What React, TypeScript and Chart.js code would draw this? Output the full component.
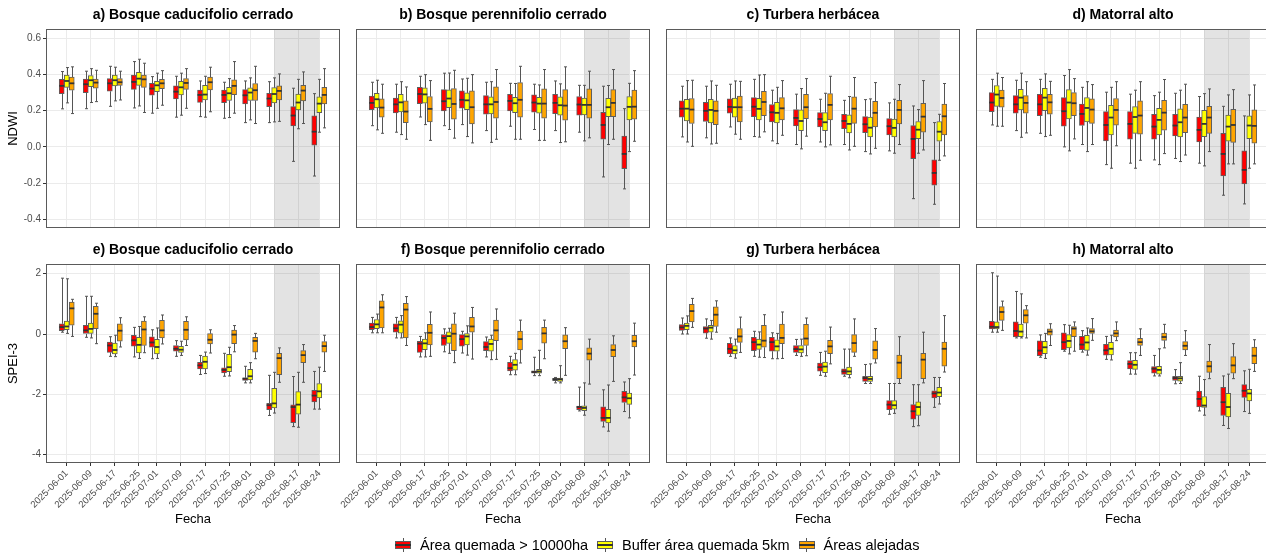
import React, { useEffect, useRef } from 'react';
import { Chart, registerables } from 'chart.js';

Chart.register(...registerables);

// ---------------- DATA ----------------
const DATES = [
  '2025-06-01', '2025-06-09', '2025-06-17', '2025-06-25', '2025-07-01', '2025-07-09',
  '2025-07-17', '2025-07-25', '2025-08-01', '2025-08-09', '2025-08-17', '2025-08-24',
];
const SHADE_FROM = '2025-08-09';
const SHADE_TO = '2025-08-24';

const SERIES = ['Área quemada > 10000ha', 'Buffer área quemada 5km', 'Áreas alejadas'];
const COLORS = ['#ff0000', '#ffff00', '#ffa500'];

const TITLES = [
  'a) Bosque caducifolio cerrado', 'b) Bosque perennifolio cerrado', 'c) Turbera herbácea', 'd) Matorral alto',
  'e) Bosque caducifolio cerrado', 'f) Bosque perennifolio cerrado', 'g) Turbera herbácea', 'h) Matorral alto',
];

const NDWI_TICKS = [-0.4, -0.2, 0, 0.2, 0.4, 0.6];
const SPEI_TICKS = [-4, -2, 0, 2];

// each entry: [min, q1, median, q3, max]
const A_RED = [
  [0.21, 0.294, 0.337, 0.373, 0.416], [0.211, 0.30, 0.346, 0.375, 0.418], [0.224, 0.307, 0.351, 0.377, 0.445],
  [0.215, 0.318, 0.359, 0.396, 0.471], [0.186, 0.285, 0.322, 0.351, 0.388], [0.164, 0.265, 0.305, 0.337, 0.39],
  [0.167, 0.246, 0.287, 0.313, 0.364], [0.158, 0.244, 0.287, 0.313, 0.357], [0.134, 0.237, 0.285, 0.316, 0.364],
  [0.134, 0.222, 0.267, 0.296, 0.36], [-0.08, 0.116, 0.173, 0.222, 0.324], [-0.161, 0.009, 0.084, 0.171, 0.294],
];
const A_YEL = [
  [0.243, 0.329, 0.364, 0.396, 0.438], [0.245, 0.333, 0.368, 0.394, 0.432], [0.254, 0.337, 0.368, 0.396, 0.44],
  [0.226, 0.34, 0.377, 0.412, 0.484], [0.213, 0.305, 0.34, 0.362, 0.407], [0.175, 0.287, 0.329, 0.362, 0.407],
  [0.164, 0.259, 0.289, 0.34, 0.39], [0.162, 0.256, 0.296, 0.329, 0.377], [0.149, 0.256, 0.30, 0.326, 0.381],
  [0.138, 0.243, 0.292, 0.327, 0.381], [0.10, 0.204, 0.245, 0.292, 0.373], [0.081, 0.189, 0.239, 0.276, 0.373],
];
const A_ORA = [
  [0.184, 0.313, 0.351, 0.385, 0.442], [0.25, 0.324, 0.355, 0.375, 0.423], [0.259, 0.34, 0.357, 0.377, 0.418],
  [0.19, 0.329, 0.373, 0.396, 0.462], [0.23, 0.322, 0.351, 0.373, 0.421], [0.213, 0.318, 0.353, 0.377, 0.432],
  [0.194, 0.315, 0.357, 0.385, 0.44], [0.186, 0.289, 0.337, 0.37, 0.471], [0.129, 0.256, 0.313, 0.35, 0.445],
  [0.141, 0.259, 0.309, 0.337, 0.403], [0.129, 0.254, 0.311, 0.34, 0.414], [0.105, 0.237, 0.287, 0.329, 0.432],
];

const B_RED = [
  [0.117, 0.206, 0.243, 0.281, 0.357], [0.081, 0.187, 0.235, 0.27, 0.346], [0.165, 0.239, 0.292, 0.329, 0.39],
  [0.117, 0.199, 0.252, 0.316, 0.407], [0.123, 0.214, 0.26, 0.309, 0.375], [0.09, 0.18, 0.235, 0.283, 0.357],
  [0.114, 0.199, 0.254, 0.29, 0.351], [0.096, 0.191, 0.245, 0.287, 0.346], [0.09, 0.184, 0.243, 0.29, 0.364],
  [0.081, 0.175, 0.234, 0.278, 0.34], [-0.166, 0.042, 0.121, 0.191, 0.335], [-0.232, -0.12, -0.039, 0.06, 0.211],
];
const B_YEL = [
  [0.094, 0.215, 0.263, 0.296, 0.368], [0.068, 0.193, 0.246, 0.29, 0.36], [0.123, 0.241, 0.29, 0.326, 0.399],
  [0.096, 0.217, 0.267, 0.315, 0.408], [0.057, 0.206, 0.257, 0.298, 0.379], [0.025, 0.182, 0.235, 0.276, 0.36],
  [0.042, 0.189, 0.241, 0.274, 0.35], [0.036, 0.186, 0.239, 0.274, 0.342], [0.024, 0.175, 0.23, 0.276, 0.348],
  [0.033, 0.177, 0.232, 0.27, 0.34], [0.013, 0.167, 0.219, 0.268, 0.339], [-0.026, 0.149, 0.221, 0.278, 0.351],
];
const B_ORA = [
  [0.075, 0.164, 0.217, 0.265, 0.346], [0.042, 0.134, 0.195, 0.254, 0.331], [0.036, 0.138, 0.21, 0.278, 0.366],
  [0.048, 0.153, 0.237, 0.322, 0.423], [0.022, 0.127, 0.219, 0.309, 0.399], [0.042, 0.158, 0.248, 0.331, 0.427],
  [0.042, 0.164, 0.26, 0.355, 0.445], [0.036, 0.158, 0.239, 0.32, 0.427], [0.028, 0.147, 0.228, 0.316, 0.442],
  [0.05, 0.158, 0.232, 0.32, 0.418], [0.042, 0.167, 0.243, 0.316, 0.427], [0.031, 0.153, 0.222, 0.313, 0.421],
];

const C_RED = [
  [0.055, 0.164, 0.211, 0.254, 0.335], [0.05, 0.14, 0.199, 0.246, 0.335], [0.11, 0.186, 0.221, 0.265, 0.346],
  [0.057, 0.167, 0.222, 0.272, 0.373], [0.033, 0.138, 0.191, 0.234, 0.313], [0.013, 0.116, 0.16, 0.206, 0.291],
  [0.027, 0.11, 0.154, 0.189, 0.263], [0.013, 0.10, 0.143, 0.18, 0.257], [-0.026, 0.079, 0.125, 0.167, 0.261],
  [-0.022, 0.066, 0.114, 0.156, 0.243], [-0.286, -0.065, 0.044, 0.117, 0.226], [-0.317, -0.212, -0.144, -0.072, 0.134],
];
const C_YEL = [
  [0.027, 0.143, 0.211, 0.263, 0.366], [0.016, 0.132, 0.204, 0.263, 0.364], [0.07, 0.164, 0.219, 0.27, 0.364],
  [0.054, 0.149, 0.21, 0.268, 0.397], [0.018, 0.132, 0.188, 0.246, 0.329], [-0.011, 0.09, 0.143, 0.204, 0.322],
  [0.0, 0.09, 0.136, 0.189, 0.296], [-0.017, 0.077, 0.127, 0.177, 0.278], [-0.039, 0.055, 0.106, 0.164, 0.265],
  [-0.035, 0.055, 0.105, 0.154, 0.263], [-0.035, 0.046, 0.095, 0.14, 0.206], [-0.074, 0.031, 0.084, 0.14, 0.18],
];
const C_ORA = [
  [0.003, 0.129, 0.206, 0.267, 0.368], [0.02, 0.123, 0.199, 0.254, 0.34], [0.042, 0.138, 0.219, 0.28, 0.362],
  [0.083, 0.173, 0.248, 0.307, 0.399], [0.064, 0.149, 0.213, 0.272, 0.366], [0.059, 0.156, 0.219, 0.29, 0.377],
  [0.011, 0.149, 0.232, 0.294, 0.39], [0.003, 0.13, 0.211, 0.276, 0.383], [-0.008, 0.11, 0.188, 0.252, 0.355],
  [0.013, 0.127, 0.204, 0.257, 0.344], [-0.017, 0.081, 0.167, 0.241, 0.366], [-0.05, 0.066, 0.169, 0.237, 0.35],
];

const D_RED = [
  [0.121, 0.195, 0.245, 0.30, 0.373], [0.09, 0.186, 0.235, 0.283, 0.368], [0.075, 0.173, 0.235, 0.29, 0.373],
  [0.0, 0.114, 0.197, 0.272, 0.394], [0.013, 0.118, 0.182, 0.237, 0.329], [-0.098, 0.033, 0.121, 0.195, 0.302],
  [-0.09, 0.042, 0.127, 0.195, 0.291], [-0.072, 0.042, 0.112, 0.18, 0.283], [-0.064, 0.061, 0.118, 0.18, 0.296],
  [-0.09, 0.027, 0.094, 0.165, 0.278], [-0.267, -0.161, -0.039, 0.075, 0.224], [-0.315, -0.205, -0.127, -0.022, 0.171],
];
const D_YEL = [
  [0.114, 0.224, 0.289, 0.339, 0.407], [0.053, 0.204, 0.272, 0.318, 0.407], [0.057, 0.20, 0.272, 0.324, 0.403],
  [-0.022, 0.154, 0.245, 0.316, 0.427], [-0.026, 0.138, 0.215, 0.272, 0.36], [-0.118, 0.066, 0.162, 0.23, 0.329],
  [-0.118, 0.075, 0.165, 0.222, 0.313], [-0.098, 0.066, 0.149, 0.213, 0.302], [-0.081, 0.055, 0.136, 0.21, 0.313],
  [-0.105, 0.057, 0.127, 0.202, 0.294], [-0.094, 0.031, 0.112, 0.175, 0.287], [-0.118, 0.046, 0.118, 0.171, 0.287],
];
const D_ORA = [
  [0.114, 0.219, 0.27, 0.313, 0.383], [0.077, 0.186, 0.243, 0.283, 0.36], [0.064, 0.18, 0.246, 0.29, 0.362],
  [0.044, 0.173, 0.241, 0.30, 0.377], [0.013, 0.13, 0.206, 0.265, 0.344], [0.006, 0.12, 0.204, 0.267, 0.36],
  [-0.074, 0.07, 0.173, 0.254, 0.36], [-0.037, 0.092, 0.189, 0.257, 0.372], [-0.045, 0.079, 0.162, 0.235, 0.346],
  [-0.026, 0.075, 0.162, 0.224, 0.32], [-0.094, 0.025, 0.121, 0.208, 0.316], [-0.094, 0.02, 0.116, 0.204, 0.342],
];

const E_RED = [
  [0.06, 0.11, 0.23, 0.34, 1.85], [-0.11, 0.0, 0.12, 0.29, 1.25], [-0.74, -0.61, -0.38, -0.27, -0.09],
  [-0.76, -0.40, -0.21, -0.04, 0.22], [-0.82, -0.44, -0.28, -0.09, 0.14], [-0.74, -0.57, -0.49, -0.38, -0.22],
  [-1.34, -1.16, -1.04, -0.94, -0.71], [-1.40, -1.29, -1.19, -1.12, -0.64], [-1.62, -1.54, -1.48, -1.45, -1.07],
  [-2.70, -2.51, -2.36, -2.30, -1.37], [-3.07, -2.94, -2.42, -2.35, -1.41], [-2.49, -2.25, -2.04, -1.87, -1.24],
];
const E_YEL = [
  [0.02, 0.14, 0.25, 0.43, 1.83], [-0.13, 0.02, 0.17, 0.36, 1.25], [-0.75, -0.66, -0.53, -0.30, -0.04],
  [-0.81, -0.63, -0.36, -0.11, 0.25], [-0.81, -0.66, -0.43, -0.18, 0.20], [-0.71, -0.61, -0.52, -0.41, -0.24],
  [-1.31, -1.16, -0.92, -0.73, -0.60], [-1.39, -1.25, -1.10, -0.67, -0.44], [-1.62, -1.52, -1.40, -1.17, -0.95],
  [-2.62, -2.45, -2.30, -1.80, -1.27], [-3.09, -2.66, -2.34, -1.91, -1.27], [-2.49, -2.12, -1.90, -1.64, -1.10],
];
const E_ORA = [
  [-0.08, 0.29, 0.85, 1.06, 1.15], [-0.32, 0.18, 0.67, 0.92, 1.02], [-0.43, -0.24, 0.11, 0.34, 0.54],
  [-0.62, -0.38, 0.15, 0.43, 0.57], [-0.33, -0.13, 0.12, 0.45, 0.63], [-0.38, -0.20, 0.14, 0.42, 0.57],
  [-0.63, -0.33, -0.19, 0.01, 0.14], [-0.59, -0.32, -0.02, 0.13, 0.28], [-0.82, -0.60, -0.23, -0.11, 0.02],
  [-1.60, -1.35, -0.80, -0.64, -0.46], [-1.60, -0.95, -0.70, -0.55, -0.35], [-1.24, -0.60, -0.40, -0.25, -0.04],
];

const F_RED = [
  [0.04, 0.14, 0.23, 0.36, 0.55], [-0.13, 0.06, 0.19, 0.34, 0.55], [-0.76, -0.61, -0.32, -0.24, -0.08],
  [-0.59, -0.38, -0.13, 0.0, 0.17], [-0.63, -0.40, -0.17, -0.02, 0.09], [-0.76, -0.55, -0.43, -0.25, -0.10],
  [-1.35, -1.22, -1.13, -0.94, -0.74], [-1.38, -1.30, -1.26, -1.22, -0.77], [-1.62, -1.55, -1.50, -1.47, -1.44],
  [-2.55, -2.51, -2.42, -2.39, -1.76], [-3.08, -2.90, -2.78, -2.41, -1.85], [-2.57, -2.27, -2.10, -1.90, -1.59],
];
const F_YEL = [
  [0.04, 0.18, 0.32, 0.48, 0.66], [-0.13, 0.03, 0.31, 0.44, 0.61], [-0.76, -0.52, -0.31, -0.17, 0.04],
  [-0.64, -0.31, -0.07, 0.07, 0.19], [-0.70, -0.36, -0.08, 0.01, 0.27], [-0.85, -0.57, -0.33, -0.17, -0.04],
  [-1.35, -1.20, -1.02, -0.85, -0.64], [-1.38, -1.30, -1.24, -1.17, -0.54], [-1.62, -1.57, -1.50, -1.46, -1.05],
  [-2.69, -2.54, -2.45, -2.38, -1.62], [-3.22, -2.95, -2.78, -2.50, -1.69], [-2.78, -2.33, -2.13, -1.96, -1.48],
];
const F_ORA = [
  [0.04, 0.20, 0.88, 1.10, 1.30], [-0.38, -0.13, 0.81, 1.02, 1.24], [-0.74, -0.36, 0.04, 0.32, 0.73],
  [-0.95, -0.55, 0.01, 0.34, 0.69], [-0.83, 0.06, 0.25, 0.55, 0.88], [-0.84, -0.22, 0.12, 0.46, 0.83],
  [-0.96, -0.53, -0.17, 0.10, 0.46], [-0.82, -0.30, 0.02, 0.22, 0.46], [-1.37, -0.49, -0.24, -0.03, 0.21],
  [-1.66, -0.87, -0.65, -0.46, -0.17], [-1.57, -0.75, -0.53, -0.35, -0.06], [-1.36, -0.43, -0.24, -0.04, 0.36],
];

const G_RED = [
  [0.0, 0.12, 0.22, 0.31, 0.53], [-0.14, 0.03, 0.18, 0.25, 0.50], [-0.74, -0.66, -0.49, -0.31, -0.13],
  [-0.74, -0.55, -0.27, -0.11, 0.09], [-0.82, -0.57, -0.27, -0.11, 0.04], [-0.71, -0.61, -0.50, -0.38, -0.18],
  [-1.37, -1.23, -1.10, -0.96, -0.61], [-1.40, -1.34, -1.24, -1.15, -0.50], [-1.64, -1.57, -1.46, -1.40, -1.01],
  [-2.66, -2.51, -2.34, -2.21, -1.64], [-3.07, -2.82, -2.56, -2.34, -1.68], [-2.43, -2.12, -1.97, -1.88, -1.44],
];
const G_YEL = [
  [0.0, 0.14, 0.27, 0.36, 0.60], [-0.17, 0.06, 0.21, 0.29, 0.45], [-0.80, -0.66, -0.54, -0.38, -0.17],
  [-0.77, -0.51, -0.35, -0.17, 0.07], [-0.82, -0.57, -0.41, -0.19, 0.02], [-0.74, -0.63, -0.51, -0.38, -0.17],
  [-1.40, -1.28, -1.08, -0.93, -0.57], [-1.45, -1.35, -1.24, -1.10, -0.50], [-1.64, -1.57, -1.49, -1.40, -0.99],
  [-2.63, -2.49, -2.36, -2.21, -1.64], [-3.04, -2.70, -2.42, -2.25, -1.68], [-2.32, -2.08, -1.94, -1.77, -1.44],
];
const G_ORA = [
  [0.22, 0.40, 0.76, 0.98, 1.18], [0.06, 0.25, 0.64, 0.90, 1.10], [-0.61, -0.28, -0.08, 0.18, 0.56],
  [-0.78, -0.44, -0.22, 0.29, 0.64], [-0.81, -0.32, -0.13, 0.33, 0.73], [-0.72, -0.38, -0.15, 0.32, 0.53],
  [-0.99, -0.65, -0.41, -0.21, 0.23], [-0.74, -0.61, -0.30, -0.02, 0.50], [-0.96, -0.83, -0.53, -0.23, 0.18],
  [-1.64, -1.48, -0.95, -0.70, -0.09], [-1.62, -1.48, -0.85, -0.64, 0.06], [-1.26, -1.07, -0.49, -0.27, 0.61],
];

const H_RED = [
  [0.06, 0.17, 0.24, 0.42, 2.03], [-0.13, -0.10, 0.10, 0.40, 1.41], [-0.77, -0.72, -0.55, -0.23, -0.03],
  [-0.57, -0.52, -0.27, 0.04, 0.31], [-0.60, -0.52, -0.35, -0.08, 0.11], [-0.84, -0.70, -0.54, -0.34, -0.08],
  [-1.33, -1.16, -0.99, -0.88, -0.62], [-1.39, -1.30, -1.15, -1.08, -0.71], [-1.65, -1.54, -1.46, -1.40, -1.18],
  [-2.55, -2.42, -2.15, -1.89, -1.40], [-3.03, -2.70, -2.26, -1.77, -1.39], [-2.57, -2.10, -1.88, -1.68, -1.22],
];
const H_YEL = [
  [0.06, 0.17, 0.23, 0.40, 1.92], [-0.13, -0.09, 0.08, 0.33, 1.33], [-0.81, -0.65, -0.44, -0.24, 0.02],
  [-0.66, -0.46, -0.23, -0.02, 0.29], [-0.70, -0.54, -0.28, -0.04, 0.20], [-0.86, -0.69, -0.49, -0.28, -0.04],
  [-1.33, -1.17, -1.02, -0.87, -0.62], [-1.39, -1.33, -1.19, -1.07, -0.49], [-1.64, -1.56, -1.47, -1.40, -0.95],
  [-2.69, -2.43, -2.37, -2.07, -1.51], [-3.13, -2.75, -2.42, -1.97, -1.33], [-2.63, -2.22, -1.97, -1.83, -1.17],
];
const H_ORA = [
  [0.12, 0.45, 0.73, 0.91, 1.09], [-0.13, 0.36, 0.62, 0.81, 0.94], [-0.38, -0.04, 0.08, 0.17, 0.34],
  [-0.57, -0.09, 0.18, 0.25, 0.40], [-0.21, 0.02, 0.09, 0.18, 0.51], [-0.22, -0.10, 0.02, 0.13, 0.40],
  [-0.71, -0.38, -0.27, -0.14, 0.17], [-0.46, -0.21, -0.10, 0.03, 0.32], [-0.71, -0.53, -0.39, -0.25, 0.11],
  [-1.48, -1.27, -1.07, -0.90, -0.35], [-1.48, -1.30, -1.04, -0.75, -0.32], [-1.24, -0.98, -0.72, -0.43, -0.19],
];

// ---------------- LAYOUT / STYLE ----------------
const FONT = "'Liberation Sans', Arial, Helvetica, sans-serif";
const GRID = '#ebebeb';
const BOX_BORDER = '#5e5e5e';
const WHISKER = '#555555';
const MEDIAN = '#333333';
const FRAME = '#5a5a5a';

const DAY_MS = 86400000;
const DAY0 = Date.parse(DATES[0] + 'T00:00:00Z');
const toDay = (d: string) => (Date.parse(d + 'T00:00:00Z') - DAY0) / DAY_MS;
const DAYS = DATES.map(toDay);

const X_MIN = -6.9;
const X_MAX = 90.9;
const DODGE = [-1.67, 0, 1.67];
const BOX_PX = 5;

const COL_LEFT = [46, 356, 666, 976];
const PLOT_W = 294;
const ROW_TOP = [29, 264];
const PLOT_H = 199;
const TITLE_H = 26; // 14 * 1.2 + 4.2 + 5
const PAD_R = 10;
const PAD_B = 10;

const ROWS = [
  { min: -0.448, max: 0.651, ticks: NDWI_TICKS, label: 'NDWI', dec: 1 },
  { min: -4.275, max: 2.32, ticks: SPEI_TICKS, label: 'SPEI-3', dec: 0 },
];

const PANELS = [
  [A_RED, A_YEL, A_ORA], [B_RED, B_YEL, B_ORA], [C_RED, C_YEL, C_ORA], [D_RED, D_YEL, D_ORA],
  [E_RED, E_YEL, E_ORA], [F_RED, F_YEL, F_ORA], [G_RED, G_YEL, G_ORA], [H_RED, H_YEL, H_ORA],
];

const boxPlugin = {
  id: 'boxExtras',
  beforeDatasetsDraw(chart: any) {
    const { ctx, chartArea, scales } = chart;
    const xs = scales.x;
    const ys = scales.y;
    // shaded period
    const x0 = xs.getPixelForValue(toDay(SHADE_FROM));
    const x1 = xs.getPixelForValue(toDay(SHADE_TO));
    ctx.save();
    ctx.fillStyle = 'rgba(0,0,0,0.11)';
    ctx.fillRect(x0, chartArea.top, x1 - x0, chartArea.bottom - chartArea.top);
    // whiskers
    ctx.strokeStyle = WHISKER;
    ctx.lineWidth = 1;
    chart.data.datasets.forEach((ds: any, di: number) => {
      const meta = chart.getDatasetMeta(di);
      ds.stats.forEach((st: number[], i: number) => {
        const el = meta.data[i];
        if (!el) return;
        const cx = Math.round(el.x) + 0.5;
        const yMin = ys.getPixelForValue(st[0]);
        const yQ1 = ys.getPixelForValue(st[1]);
        const yQ3 = ys.getPixelForValue(st[3]);
        const yMax = ys.getPixelForValue(st[4]);
        ctx.beginPath();
        ctx.moveTo(cx, yMax);
        ctx.lineTo(cx, yQ3);
        ctx.moveTo(cx, yQ1);
        ctx.lineTo(cx, yMin);
        ctx.moveTo(cx - 1.5, yMax);
        ctx.lineTo(cx + 1.5, yMax);
        ctx.moveTo(cx - 1.5, yMin);
        ctx.lineTo(cx + 1.5, yMin);
        ctx.stroke();
      });
    });
    ctx.restore();
  },
  afterDatasetsDraw(chart: any) {
    const { ctx, scales } = chart;
    const ys = scales.y;
    ctx.save();
    ctx.strokeStyle = MEDIAN;
    ctx.lineWidth = 1.8;
    chart.data.datasets.forEach((ds: any, di: number) => {
      const meta = chart.getDatasetMeta(di);
      ds.stats.forEach((st: number[], i: number) => {
        const el = meta.data[i];
        if (!el) return;
        const y = ys.getPixelForValue(st[2]);
        ctx.beginPath();
        ctx.moveTo(el.x - el.width / 2, y);
        ctx.lineTo(el.x + el.width / 2, y);
        ctx.stroke();
      });
    });
    ctx.restore();
  },
  afterDraw(chart: any) {
    const { ctx, chartArea } = chart;
    ctx.save();
    ctx.strokeStyle = FRAME;
    ctx.lineWidth = 1;
    const l = Math.round(chartArea.left) + 0.5;
    const t = Math.round(chartArea.top) + 0.5;
    const r = Math.round(chartArea.right) - 0.5;
    const b = Math.round(chartArea.bottom) - 0.5;
    ctx.strokeRect(l, t, r - l, b - t);
    ctx.restore();
  },
};

function geometry(idx: number) {
  const row = Math.floor(idx / 4);
  const col = idx % 4;
  const yW = col === 0 ? 46 : 40;
  const xH = row === 0 ? 0 : 70;
  const left = COL_LEFT[col] - yW;
  const top = ROW_TOP[row] - TITLE_H;
  const width = yW + PLOT_W + PAD_R;
  const height = TITLE_H + PLOT_H + xH + PAD_B;
  return { row, col, yW, xH, left, top, width, height };
}

function buildConfig(idx: number): any {
  const g = geometry(idx);
  const rowCfg = ROWS[g.row];
  const showY = g.col === 0;
  const showX = g.row === 1;
  const datasets = PANELS[idx].map((stats, s) => ({
    type: 'bar',
    label: SERIES[s],
    data: stats.map((st, i) => ({ x: DAYS[i] + DODGE[s], y: [st[1], st[3]] })),
    stats,
    backgroundColor: COLORS[s],
    borderColor: BOX_BORDER,
    borderWidth: 1,
    borderSkipped: false,
    barThickness: BOX_PX,
    grouped: false,
  }));
  return {
    type: 'bar',
    data: { datasets },
    plugins: [boxPlugin],
    options: {
      responsive: false,
      animation: false,
      events: [],
      layout: { padding: { left: 0, top: 0, right: PAD_R, bottom: PAD_B } },
      plugins: {
        legend: { display: false },
        tooltip: { enabled: false },
        title: {
          display: true,
          fullSize: false,
          text: TITLES[idx],
          color: '#000',
          font: { family: FONT, size: 14, weight: 'bold', lineHeight: 1.2 },
          padding: { top: 4.2, bottom: 5 },
        },
      },
      scales: {
        x: {
          type: 'linear',
          min: X_MIN,
          max: X_MAX,
          offset: false,
          afterBuildTicks: (s: any) => {
            s.ticks = DAYS.map((v) => ({ value: v }));
          },
          afterFit: (s: any) => {
            s.height = g.xH;
          },
          border: { display: false },
          grid: {
            color: GRID,
            lineWidth: 1,
            offset: false,
            drawTicks: showX,
            tickLength: 3,
            tickColor: '#333333',
          },
          ticks: {
            display: showX,
            autoSkip: false,
            minRotation: 45,
            maxRotation: 45,
            padding: 2,
            color: '#4d4d4d',
            font: { family: FONT, size: 9.5 },
            callback: (_v: any, i: number) => DATES[i],
          },
          title: {
            display: showX,
            text: 'Fecha',
            color: '#000',
            font: { family: FONT, size: 13, lineHeight: 1.2 },
            padding: { top: 0, bottom: 6 },
          },
        },
        y: {
          type: 'linear',
          min: rowCfg.min,
          max: rowCfg.max,
          beginAtZero: false,
          afterBuildTicks: (s: any) => {
            s.ticks = rowCfg.ticks.map((v) => ({ value: v }));
          },
          afterFit: (s: any) => {
            s.width = g.yW;
          },
          border: { display: false },
          grid: {
            color: GRID,
            lineWidth: 1,
            drawTicks: showY,
            tickLength: 3,
            tickColor: '#333333',
          },
          ticks: {
            display: showY,
            padding: 2,
            color: '#4d4d4d',
            font: { family: FONT, size: 10 },
            callback: (v: any) => Number(v).toFixed(rowCfg.dec),
          },
          title: {
            display: showY,
            text: rowCfg.label,
            color: '#000',
            font: { family: FONT, size: 13, lineHeight: 1.2 },
            padding: { top: 6, bottom: 0 },
          },
        },
      },
    },
  };
}

function Panel({ idx }: { idx: number }) {
  const ref = useRef<HTMLCanvasElement | null>(null);
  const g = geometry(idx);
  useEffect(() => {
    if (!ref.current) return;
    const chart = new Chart(ref.current, buildConfig(idx));
    return () => chart.destroy();
  }, [idx]);
  return (
    <canvas
      ref={ref}
      width={g.width}
      height={g.height}
      style={{ position: 'absolute', left: g.left, top: g.top, width: g.width, height: g.height }}
    />
  );
}

function LegendKey({ color }: { color: string }) {
  return (
    <div style={{ position: 'relative', width: 16, height: 16, flex: '0 0 16px' }}>
      <div style={{ position: 'absolute', left: 7.5, top: 1, width: 1, height: 14, background: WHISKER }} />
      <div
        style={{
          position: 'absolute', left: 0, top: 4, width: 16, height: 8, boxSizing: 'border-box',
          background: color, border: `1px solid ${BOX_BORDER}`,
        }}
      />
      <div style={{ position: 'absolute', left: 0, top: 7.2, width: 16, height: 1.6, background: MEDIAN }} />
    </div>
  );
}

export default function App() {
  return (
    <div
      style={{
        position: 'absolute', left: 0, top: 0, width: 1266, height: 560, overflow: 'hidden',
        background: '#ffffff', fontFamily: FONT,
      }}
    >
      {PANELS.map((_, i) => (
        <Panel key={i} idx={i} />
      ))}
      <div
        style={{
          position: 'absolute', left: 395, top: 536, height: 18, display: 'flex', alignItems: 'center',
          fontSize: 14.5, color: '#000', whiteSpace: 'nowrap',
        }}
      >
        {SERIES.map((s, i) => (
          <div key={s} style={{ display: 'flex', alignItems: 'center', marginRight: 9 }}>
            <LegendKey color={COLORS[i]} />
            <span style={{ marginLeft: 9 }}>{s}</span>
          </div>
        ))}
      </div>
    </div>
  );
}
